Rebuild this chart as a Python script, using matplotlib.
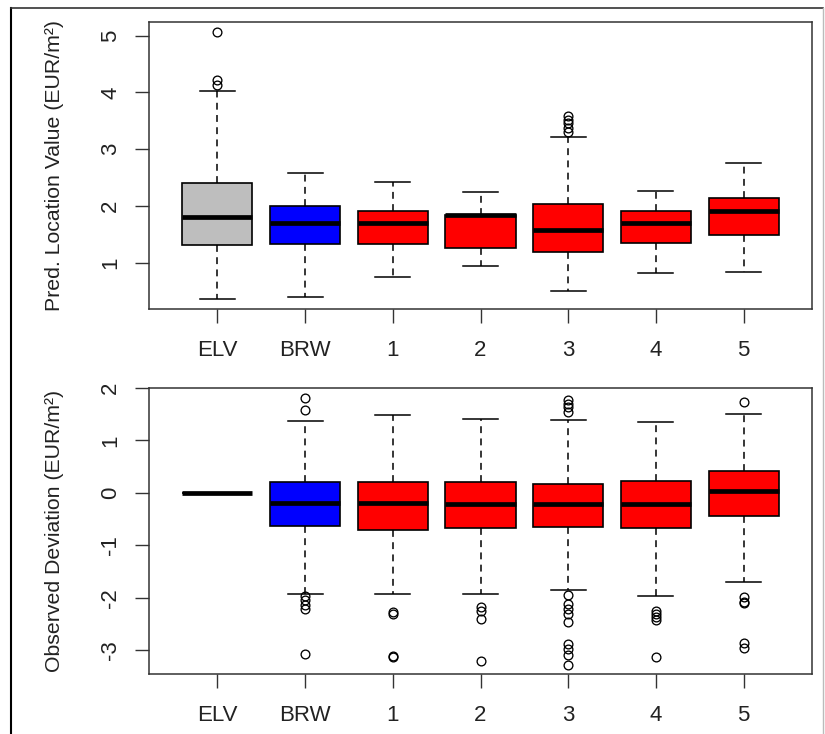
import matplotlib
matplotlib.use("Agg")
import matplotlib.pyplot as plt
from matplotlib.lines import Line2D

plt.rcParams['font.family'] = ['Liberation Sans', 'DejaVu Sans']

labels = ["ELV", "BRW", "1", "2", "3", "4", "5"]
colors = ["#BEBEBE", "#0000FF", "#FF0000", "#FF0000", "#FF0000", "#FF0000", "#FF0000"]

# Top panel: predicted location value
top_whislo = [0.37, 0.40, 0.75, 0.94, 0.51, 0.82, 0.84]
top_q1 = [1.32, 1.33, 1.33, 1.26, 1.19, 1.36, 1.50]
top_med = [1.815, 1.70, 1.70, 1.845, 1.58, 1.70, 1.92]
top_q3 = [2.40, 2.00, 1.91, 1.85, 2.03, 1.91, 2.14]
top_whishi = [4.02, 2.59, 2.43, 2.24, 3.22, 2.26, 2.76]
top_fliers = [[4.13, 4.22, 5.06], [], [], [], [3.31, 3.38, 3.46, 3.52, 3.58], [], []]

# Bottom panel: observed deviation
bot_whislo = [0, -1.93, -1.93, -1.92, -1.85, -1.97, -1.69]
bot_q1 = [0, -0.635, -0.70, -0.67, -0.64, -0.67, -0.43]
bot_med = [0, -0.19, -0.20, -0.21, -0.21, -0.21, 0.03]
bot_q3 = [0, 0.20, 0.20, 0.20, 0.18, 0.22, 0.41]
bot_whishi = [0, 1.38, 1.49, 1.40, 1.385, 1.35, 1.51]
bot_fliers = [[], [1.575, 1.80, -1.97, -2.04, -2.13, -2.22, -3.06],
              [-2.27, -2.31, -3.10, -3.12],
              [-2.17, -2.25, -2.40, -3.21],
              [1.54, 1.64, 1.70, 1.77, -1.94, -2.11, -2.22, -2.31, -2.46, -2.87, -2.97, -3.09, -3.28],
              [-2.25, -2.30, -2.36, -2.42, -3.13],
              [1.74, -1.99, -2.08, -2.10, -2.86, -2.96]]

W, H = 825, 734
fig = plt.figure(figsize=(W / 100, H / 100), dpi=100)
fig.patch.set_facecolor('white')

def fx(px):
    return px / W

def fy(py):
    return 1 - py / H

ax1 = fig.add_axes([fx(149), fy(309), fx(812) - fx(149), fy(22) - fy(309)])
ax2 = fig.add_axes([fx(149), fy(674), fx(812) - fx(149), fy(388) - fy(674)])

def draw(ax, wlo, q1, med, q3, whi, fl, ylim, yticks, ylabel):
    stats = []
    for i in range(len(labels)):
        stats.append(dict(whislo=wlo[i], q1=q1[i], med=med[i], q3=q3[i],
                          whishi=whi[i], fliers=fl[i], label=labels[i]))
    bp = ax.bxp(stats, positions=range(1, len(labels) + 1), widths=0.8,
                patch_artist=True, showfliers=True,
                boxprops=dict(linewidth=1.2, edgecolor='black'),
                medianprops=dict(color='black', linewidth=3.4, solid_capstyle='butt'),
                whiskerprops=dict(color='black', linewidth=1.1, linestyle=(0, (4.5, 3.5))),
                capprops=dict(color='black', linewidth=1.1),
                capwidths=0.4,
                flierprops=dict(marker='o', markerfacecolor='none',
                                markeredgecolor='black', markersize=6.3,
                                markeredgewidth=0.95, linestyle='none'))
    for patch, c in zip(bp['boxes'], colors):
        patch.set_facecolor(c)
    ax.set_xlim(0.22, 7.78)
    ax.set_ylim(*ylim)
    ax.set_yticks(yticks)
    ax.set_yticklabels([str(t) for t in yticks], rotation=90, va='center')
    ax.set_xticks(range(1, len(labels) + 1))
    ax.set_xticklabels(labels)
    ax.tick_params(axis='both', length=10, width=1.0, color='#333333',
                   labelsize=16, labelcolor='#222222')
    ax.tick_params(axis='x', pad=12)
    ax.tick_params(axis='y', pad=10)
    for s in ax.spines.values():
        s.set_color('#333333')
        s.set_linewidth(1.1)
    ax.set_ylabel(ylabel, fontsize=15.3, color='#222222')
    ax.yaxis.set_label_coords(-0.142, 0.5)
    ax.yaxis.label.set_va('center')

draw(ax1, top_whislo, top_q1, top_med, top_q3, top_whishi, top_fliers,
     (0.19, 5.24), [1, 2, 3, 4, 5], "Pred. Location Value (EUR/m²)")
draw(ax2, bot_whislo, bot_q1, bot_med, bot_q3, bot_whishi, bot_fliers,
     (-3.45, 1.99), [-3, -2, -1, 0, 1, 2], "Observed Deviation (EUR/m²)")

# outer frame
fig.add_artist(Line2D([fx(11), fx(11)], [0, fy(8)], transform=fig.transFigure,
                      color='black', lw=1.5))
fig.add_artist(Line2D([fx(11), fx(823)], [fy(8), fy(8)], transform=fig.transFigure,
                      color='#333333', lw=1.2))
fig.add_artist(Line2D([fx(823), fx(823)], [0, fy(8)], transform=fig.transFigure,
                      color='#BBBBBB', lw=1.0))

fig.savefig("out.png", dpi=100)
